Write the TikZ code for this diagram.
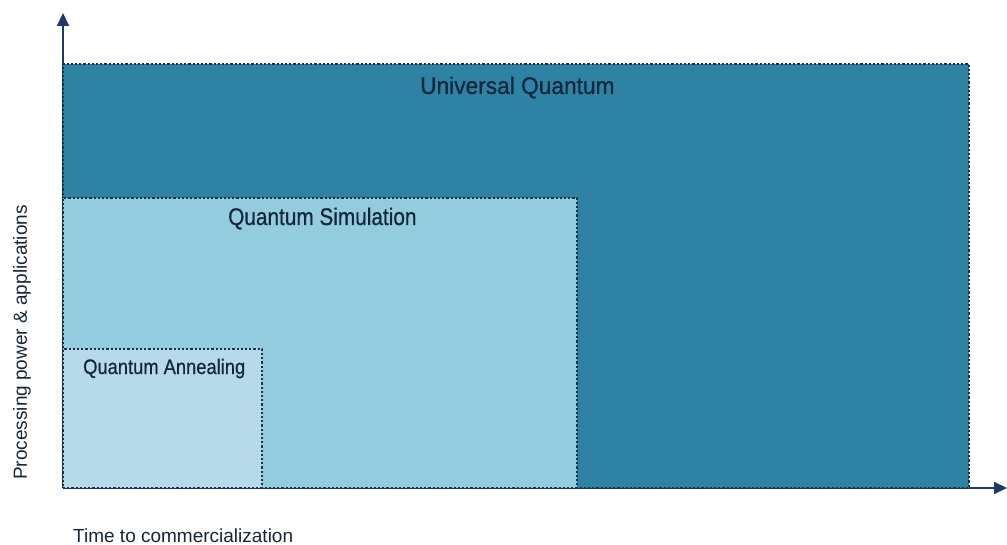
\documentclass[tikz,border=0pt]{standalone}
\usepackage{fontspec}
\setmainfont{Liberation Sans}
\newfontfamily\lblfont[FakeBold=0.6]{Liberation Sans}
\usetikzlibrary{arrows.meta}
\definecolor{uqcol}{HTML}{2E83A5}
\definecolor{qscol}{HTML}{93CCDF}
\definecolor{qacol}{HTML}{B6DAE9}
\definecolor{bordercol}{HTML}{1B3047}
\definecolor{axiscol}{HTML}{1F3A66}
\definecolor{txtcol}{HTML}{14263A}
\tikzset{
  region/.style={draw=bordercol, line width=2.2pt, dash pattern=on 2.2pt off 2pt, anchor=south west, inner sep=0pt, outer sep=0pt},
  axisline/.style={draw=axiscol, line width=2pt, -{Triangle[width=12pt,length=13pt]}},
  boxlabel/.style={anchor=base west, inner sep=0pt, text=txtcol},
  axislabel/.style={anchor=base west, inner sep=0pt, text=txtcol, font=\fontsize{19}{22}\selectfont},
}
\begin{document}
\begin{tikzpicture}[x=1pt,y=-1pt]
\useasboundingbox (0,0) rectangle (1007,545);
\coordinate (o) at (63,488);
\coordinate (ytip) at (63,13);
\coordinate (xtip) at (1007,488);
\draw[axisline] (o) -- (ytip);
\draw[axisline] (o) -- (xtip);
\node[region, fill=uqcol, minimum width=906pt, minimum height=424pt] (uq) at (o) {};
\node[region, fill=qscol, minimum width=514pt, minimum height=290pt] (qs) at (o) {};
\node[region, fill=qacol, minimum width=199pt, minimum height=139pt] (qa) at (o) {};
\node[boxlabel, font=\lblfont\fontsize{24}{28}\selectfont] (uql) at (420,94) {\scalebox{0.946}[1]{Universal Quantum}};
\node[boxlabel, font=\lblfont\fontsize{24}{28}\selectfont] (qsl) at (228,225) {\scalebox{0.866}[1]{Quantum Simulation}};
\node[boxlabel, font=\lblfont\fontsize{21}{25}\selectfont] (qal) at (83,374) {\scalebox{0.873}[1]{Quantum Annealing}};
\node[axislabel] (xl) at (73,542) {Time to commercialization};
\node[axislabel, rotate=90] (yl) at (27,480) {Processing power \& applications};
\end{tikzpicture}
\end{document}
